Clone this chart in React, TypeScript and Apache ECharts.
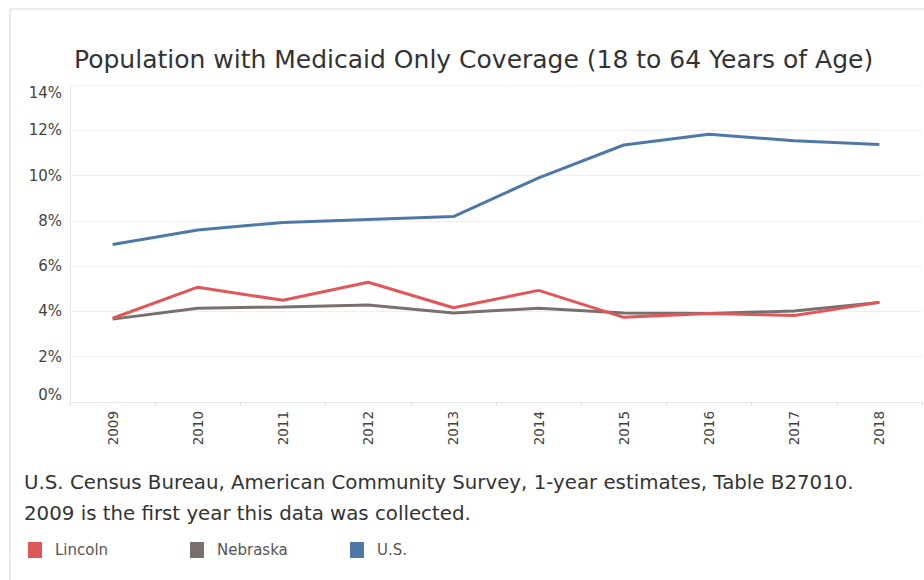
import React, { useEffect, useRef } from "react";
import * as echarts from "echarts";

const years = ["2009", "2010", "2011", "2012", "2013", "2014", "2015", "2016", "2017", "2018"];
const lincoln = [3.7, 5.07, 4.49, 5.29, 4.16, 4.93, 3.74, 3.91, 3.82, 4.4];
const nebraska = [3.66, 4.14, 4.2, 4.28, 3.93, 4.14, 3.93, 3.91, 4.02, 4.4];
const us = [6.96, 7.6, 7.93, 8.06, 8.19, 9.9, 11.35, 11.82, 11.54, 11.37];
const seriesNames = ["Lincoln", "Nebraska", "U.S."];
const seriesColors = ["#e15759", "#79706e", "#4e79a7"];

const titleText = "Population with Medicaid Only Coverage (18 to 64 Years of Age)";
const footerText =
  "U.S. Census Bureau, American Community Survey, 1-year estimates, Table B27010.\n2009 is the first year this data was collected.";

export default function App() {
  const ref = useRef<HTMLDivElement>(null);
  useEffect(() => {
    if (!ref.current) return;
    const chart = echarts.init(ref.current, undefined, { renderer: "svg" });
    const font = "'DejaVu Sans', 'Open Sans', sans-serif";
    const legendLefts = [28, 190, 350];
    chart.setOption({
      animation: false,
      backgroundColor: "#ffffff",
      textStyle: { fontFamily: font },
      title: [
        {
          text: titleText,
          left: 69,
          top: 42,
          textStyle: {
            fontFamily: font,
            fontSize: 25,
            fontWeight: "normal",
            color: "#333333",
          },
        },
        {
          text: footerText,
          left: 19,
          top: 462,
          textStyle: {
            fontFamily: font,
            fontSize: 19.8,
            fontWeight: "normal",
            color: "#333333",
            lineHeight: 31,
          },
        },
      ],
      legend: seriesNames.map((n, i) => ({
        data: [n],
        left: legendLefts[i],
        top: 542,
        icon: "rect",
        itemWidth: 14,
        itemHeight: 16,
        selectedMode: false,
        padding: 0,
        textStyle: { fontFamily: font, fontSize: 15, color: "#555555", padding: [0, 0, 0, 8] },
      })),
      graphic: [
        {
          type: "rect",
          shape: { x: 10, y: 9, width: 940, height: 600 },
          style: { fill: "none", stroke: "#d6d6d6", lineWidth: 1 },
          silent: true,
        },
      ],
      grid: { left: 70, right: 2, top: 85, bottom: 178 },
      xAxis: {
        type: "category",
        data: years,
        boundaryGap: true,
        axisLine: { show: true, lineStyle: { color: "#e8e8e8", width: 1 } },
        axisTick: { show: true, length: 4, lineStyle: { color: "#e0e0e0" } },
        axisLabel: { rotate: 90, fontSize: 13.5, color: "#444444", margin: 9, fontFamily: font },
        splitLine: { show: false },
      },
      yAxis: {
        type: "value",
        min: 0,
        max: 14,
        interval: 2,
        axisLine: { show: true, lineStyle: { color: "#e8e8e8", width: 1 } },
        axisTick: { show: false },
        splitLine: { show: true, lineStyle: { color: "#efefef", width: 1 } },
        axisLabel: {
          formatter: "{value}%",
          fontSize: 15,
          color: "#444444",
          margin: 8,
          fontFamily: font,
          verticalAlignMinLabel: "bottom",
          verticalAlignMaxLabel: "top",
        },
      },
      series: [
        { name: "Nebraska", data: nebraska, idx: 1 },
        { name: "Lincoln", data: lincoln, idx: 0 },
        { name: "U.S.", data: us, idx: 2 },
      ].map((s) => ({
        name: s.name,
        type: "line",
        data: s.data,
        symbol: "none",
        showSymbol: false,
        color: seriesColors[s.idx],
        lineStyle: { width: 3, color: seriesColors[s.idx] },
        itemStyle: { color: seriesColors[s.idx] },
      })),
    });
    return () => chart.dispose();
  }, []);
  return (
    <div
      ref={ref}
      style={{ position: "absolute", left: 0, top: 0, width: 924, height: 580 }}
    />
  );
}
